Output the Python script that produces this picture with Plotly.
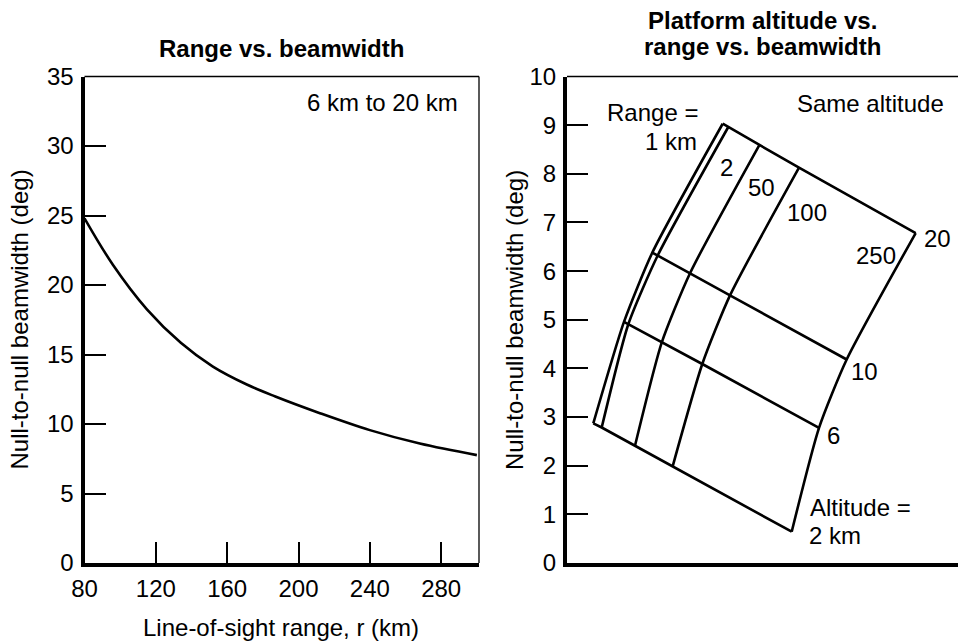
import plotly.graph_objects as go

# ---------------- Left chart data: range vs. beamwidth ----------------
los_range_km = [80, 96, 115, 134, 152, 171, 187, 212, 240, 268, 300]
beamwidth_deg = [24.8, 21.44, 18.25, 15.84, 14.13, 12.84, 11.98, 10.78, 9.56, 8.59, 7.76]
left_xticks = [80, 120, 160, 200, 240, 280]
left_yticks = [0, 5, 10, 15, 20, 25, 30, 35]

# ---------------- Right chart data: nomogram ----------------
# horizontal positions (no scale) and beamwidth (deg) of each node,
# one list per altitude line, ordered by range 1, 2, 50, 100, 250 km
range_labels = ["1 km", "2", "50", "100", "250"]
altitude_labels = ["20", "10", "6", "2 km"]
alt20_x = [3.197, 3.312, 3.949, 4.764, 7.160]
alt20_bw = [9.029, 8.962, 8.590, 8.125, 6.782]
alt10_x = [1.752, 1.862, 2.526, 3.347, 5.743]
alt10_bw = [6.380, 6.320, 5.956, 5.500, 4.183]
alt6_x = [1.170, 1.259, 1.945, 2.778, 5.175]
alt6_bw = [4.955, 4.907, 4.530, 4.090, 2.778]
alt2_x = [0.540, 0.713, 1.396, 2.170, 4.614]
alt2_bw = [2.869, 2.785, 2.410, 1.988, 0.643]
right_yticks = list(range(0, 11))

FONT = "Liberation Sans, Arial, Helvetica, sans-serif"
FS = 24
LW = 2.6

fig = go.Figure()

# left curve
fig.add_trace(go.Scatter(x=los_range_km, y=beamwidth_deg, mode="lines",
                         line=dict(color="black", width=LW, shape="spline", smoothing=1.0),
                         xaxis="x", yaxis="y", hoverinfo="skip", showlegend=False))

alt_xs = [alt20_x, alt10_x, alt6_x, alt2_x]
alt_ys = [alt20_bw, alt10_bw, alt6_bw, alt2_bw]

# altitude lines (straight)
for xs, ys in zip(alt_xs, alt_ys):
    fig.add_trace(go.Scatter(x=xs, y=ys, mode="lines",
                             line=dict(color="black", width=LW),
                             xaxis="x2", yaxis="y2", hoverinfo="skip", showlegend=False))

# range lines (slightly curved)
for j in range(len(range_labels)):
    xs = [a[j] for a in alt_xs]
    ys = [a[j] for a in alt_ys]
    fig.add_trace(go.Scatter(x=xs, y=ys, mode="lines",
                             line=dict(color="black", width=LW, shape="spline", smoothing=0.6),
                             xaxis="x2", yaxis="y2", hoverinfo="skip", showlegend=False))

YDOM = [1 - 563 / 643, 1 - 76.5 / 643]
XR_PX = 48.7  # pixels per unit on right chart

axis_common = dict(showgrid=False, zeroline=False, showline=True, linecolor="black",
                   linewidth=4, ticks="inside", ticklen=21, tickwidth=1.5, tickcolor="black",
                   automargin=False,
                   tickfont=dict(family=FONT, size=FS, color="black"))

fig.update_layout(
    width=958, height=643,
    margin=dict(l=0, r=0, t=0, b=0, autoexpand=False),
    paper_bgcolor="white", plot_bgcolor="white",
    font=dict(family=FONT, size=FS, color="black"),
    xaxis=dict(domain=[84.5 / 958, 479 / 958], range=[80, 301.2],
               tickvals=left_xticks, ticklabelstandoff=1, anchor="y", **axis_common),
    yaxis=dict(domain=YDOM, range=[0, 35], tickvals=left_yticks,
               ticklabelstandoff=2, anchor="x", **axis_common),
    xaxis2=dict(domain=[567 / 958, 1.0], range=[0, (958 - 567) / XR_PX],
                showgrid=False, zeroline=False, showline=True, linecolor="black",
                linewidth=4, ticks="", showticklabels=False, anchor="y2", automargin=False),
    yaxis2=dict(domain=YDOM, range=[0, 10], tickvals=right_yticks,
                ticklabelstandoff=2, anchor="x2", **axis_common),
)

# thin frame lines
fig.add_shape(type="line", xref="x domain", yref="y domain", x0=0, x1=1, y0=1, y1=1,
              line=dict(color="black", width=1.3))
fig.add_shape(type="line", xref="x domain", yref="y domain", x0=1, x1=1, y0=0, y1=1,
              line=dict(color="black", width=1.3))
fig.add_shape(type="line", xref="x2 domain", yref="y2 domain", x0=0, x1=1, y0=1, y1=1,
              line=dict(color="black", width=1.3))

def ann(text, x, y, xref="paper", yref="paper", xanchor="center", yanchor="middle",
        bold=False, angle=0, align="center"):
    fig.add_annotation(text=f"<b>{text}</b>" if bold else text, x=x, y=y, xref=xref, yref=yref,
                       xanchor=xanchor, yanchor=yanchor, showarrow=False, textangle=angle,
                       align=align, font=dict(family=FONT, size=FS, color="black"))

def px2(px, py):
    return (px - 567) / XR_PX, (563 - py) / XR_PX

# titles
ann("Range vs. beamwidth", 281 / 958, 1 - 48 / 643, bold=True)
ann("Platform altitude vs.", 762 / 958, 1 - 21 / 643, bold=True)
ann("range vs. beamwidth", 762 / 958, 1 - 47 / 643, bold=True)

# axis titles
ann("Null-to-null beamwidth (deg)", 18.5 / 958, 1 - 320 / 643, angle=-90)
ann("Null-to-null beamwidth (deg)", 514 / 958, 1 - 320 / 643, angle=-90)
ann("Line-of-sight range, r (km)", 280.5 / 958, 1 - 627 / 643)

# left chart note
ann("6 km to 20 km", 247.1, 33.15, xref="x", yref="y")

# right chart labels
x, y = px2(700, 112.3); ann("Range =", x, y, "x2", "y2", xanchor="right")
x, y = px2(699, 141); ann(range_labels[0], x, y, "x2", "y2", xanchor="right")
x, y = px2(726, 167); ann(range_labels[1], x, y, "x2", "y2")
x, y = px2(761.5, 187.3); ann(range_labels[2], x, y, "x2", "y2")
x, y = px2(806.5, 211.7); ann(range_labels[3], x, y, "x2", "y2")
x, y = px2(875.5, 255); ann(range_labels[4], x, y, "x2", "y2")
x, y = px2(937, 238.3); ann(altitude_labels[0], x, y, "x2", "y2")
x, y = px2(864, 371.7); ann(altitude_labels[1], x, y, "x2", "y2")
x, y = px2(833.3, 435); ann(altitude_labels[2], x, y, "x2", "y2")
x, y = px2(808, 507.3); ann("Altitude =", x, y, "x2", "y2", xanchor="left")
x, y = px2(806.5, 535); ann(altitude_labels[3], x, y, "x2", "y2", xanchor="left")
x, y = px2(870.8, 103.3); ann("Same altitude", x, y, "x2", "y2")

fig.write_html("out.html", config={"displayModeBar": False},
               post_script="document.body.style.margin='0';document.body.style.overflow='hidden';")
